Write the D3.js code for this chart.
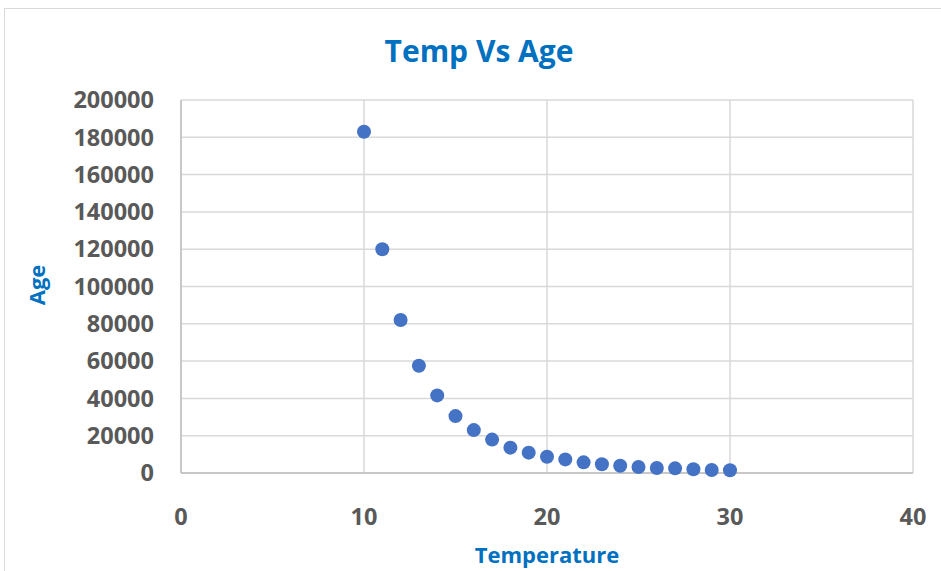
<!DOCTYPE html>
<html>
<head>
<meta charset="utf-8">
<script src="https://cdn.jsdelivr.net/npm/d3@7"></script>
<style>
    html, body { margin: 0; padding: 0; background: #fff; }
    svg { display: block; }
</style>
</head>
<body>
<script>

// values
var temperature = [10, 11, 12, 13, 14, 15, 16, 17, 18, 19, 20, 21, 22, 23, 24, 25, 26, 27, 28, 29, 30];
var age = [183000, 120000, 82000, 57500, 41600, 30500, 23000, 17900, 13600, 10900, 8700,
           7300, 5700, 4700, 3900, 3200, 2700, 2500, 2000, 1600, 1450];
var xTicks = [0, 10, 20, 30, 40];
var yTicks = [0, 20000, 40000, 60000, 80000, 100000, 120000, 140000, 160000, 180000, 200000];

var W = 941, H = 571;
var font = "'Open Sans', 'Liberation Sans', sans-serif";
var grey = "#595959", blue = "#0070C0", grid = "#d9d9d9";

var svg = d3.select("body").append("svg")
    .attr("width", W)
    .attr("height", H);

// chart frame, runs off the right and bottom edge like the screenshot
svg.append("rect")
    .attr("x", 4.5)
    .attr("y", 8.5)
    .attr("width", W + 10)
    .attr("height", H + 10)
    .attr("fill", "#fff")
    .attr("stroke", grid)
    .attr("stroke-width", 1);

var x = d3.scaleLinear().domain([0, 40]).range([181, 913]);
var y = d3.scaleLinear().domain([0, 200000]).range([473, 100]);

// gridlines
svg.append("g")
    .selectAll("line")
    .data(yTicks)
    .enter()
    .append("line")
        .attr("x1", x(0))
        .attr("x2", x(40))
        .attr("y1", function (d) { return y(d); })
        .attr("y2", function (d) { return y(d); })
        .attr("stroke", grid)
        .attr("stroke-width", 1.5);

svg.append("g")
    .selectAll("line")
    .data(xTicks)
    .enter()
    .append("line")
        .attr("x1", function (d) { return x(d); })
        .attr("x2", function (d) { return x(d); })
        .attr("y1", y(0))
        .attr("y2", y(200000))
        .attr("stroke", grid)
        .attr("stroke-width", 1.5);

// axis lines a bit darker
svg.append("line")
    .attr("x1", x(0)).attr("x2", x(40))
    .attr("y1", y(0)).attr("y2", y(0))
    .attr("stroke", "#bfbfbf")
    .attr("stroke-width", 1.5);

svg.append("line")
    .attr("x1", x(0)).attr("x2", x(0))
    .attr("y1", y(0)).attr("y2", y(200000))
    .attr("stroke", "#bfbfbf")
    .attr("stroke-width", 1.5);

// tick labels
svg.append("g")
    .selectAll("text")
    .data(yTicks)
    .enter()
    .append("text")
        .attr("x", 154)
        .attr("y", function (d) { return y(d); })
        .attr("dy", "0.35em")
        .attr("text-anchor", "end")
        .style("font-family", font)
        .style("font-weight", "bold")
        .style("font-size", "23.5px")
        .attr("fill", grey)
        .text(function (d) { return d; });

svg.append("g")
    .selectAll("text")
    .data(xTicks)
    .enter()
    .append("text")
        .attr("x", function (d) { return x(d); })
        .attr("y", 517)
        .attr("dy", "0.35em")
        .attr("text-anchor", "middle")
        .style("font-family", font)
        .style("font-weight", "bold")
        .style("font-size", "23.5px")
        .attr("fill", grey)
        .text(function (d) { return d; });

// titles
svg.append("text")
    .attr("x", 479)
    .attr("y", 62)
    .attr("text-anchor", "middle")
    .style("font-family", font)
    .style("font-weight", "bold")
    .style("font-size", "30px")
    .attr("fill", blue)
    .text("Temp Vs Age");

svg.append("text")
    .attr("x", 547)
    .attr("y", 563)
    .attr("text-anchor", "middle")
    .style("font-family", font)
    .style("font-weight", "bold")
    .style("font-size", "22px")
    .attr("fill", blue)
    .text("Temperature");

svg.append("text")
    .attr("transform", "translate(45,285) rotate(-90)")
    .attr("text-anchor", "middle")
    .style("font-family", font)
    .style("font-weight", "bold")
    .style("font-size", "22px")
    .attr("fill", blue)
    .text("Age");

// points
svg.append("g")
    .selectAll("circle")
    .data(temperature)
    .enter()
    .append("circle")
        .attr("cx", function (d) { return x(d); })
        .attr("cy", function (d, i) { return y(age[i]); })
        .attr("r", 7)
        .attr("fill", "#4472C4");

</script>
</body>
</html>
